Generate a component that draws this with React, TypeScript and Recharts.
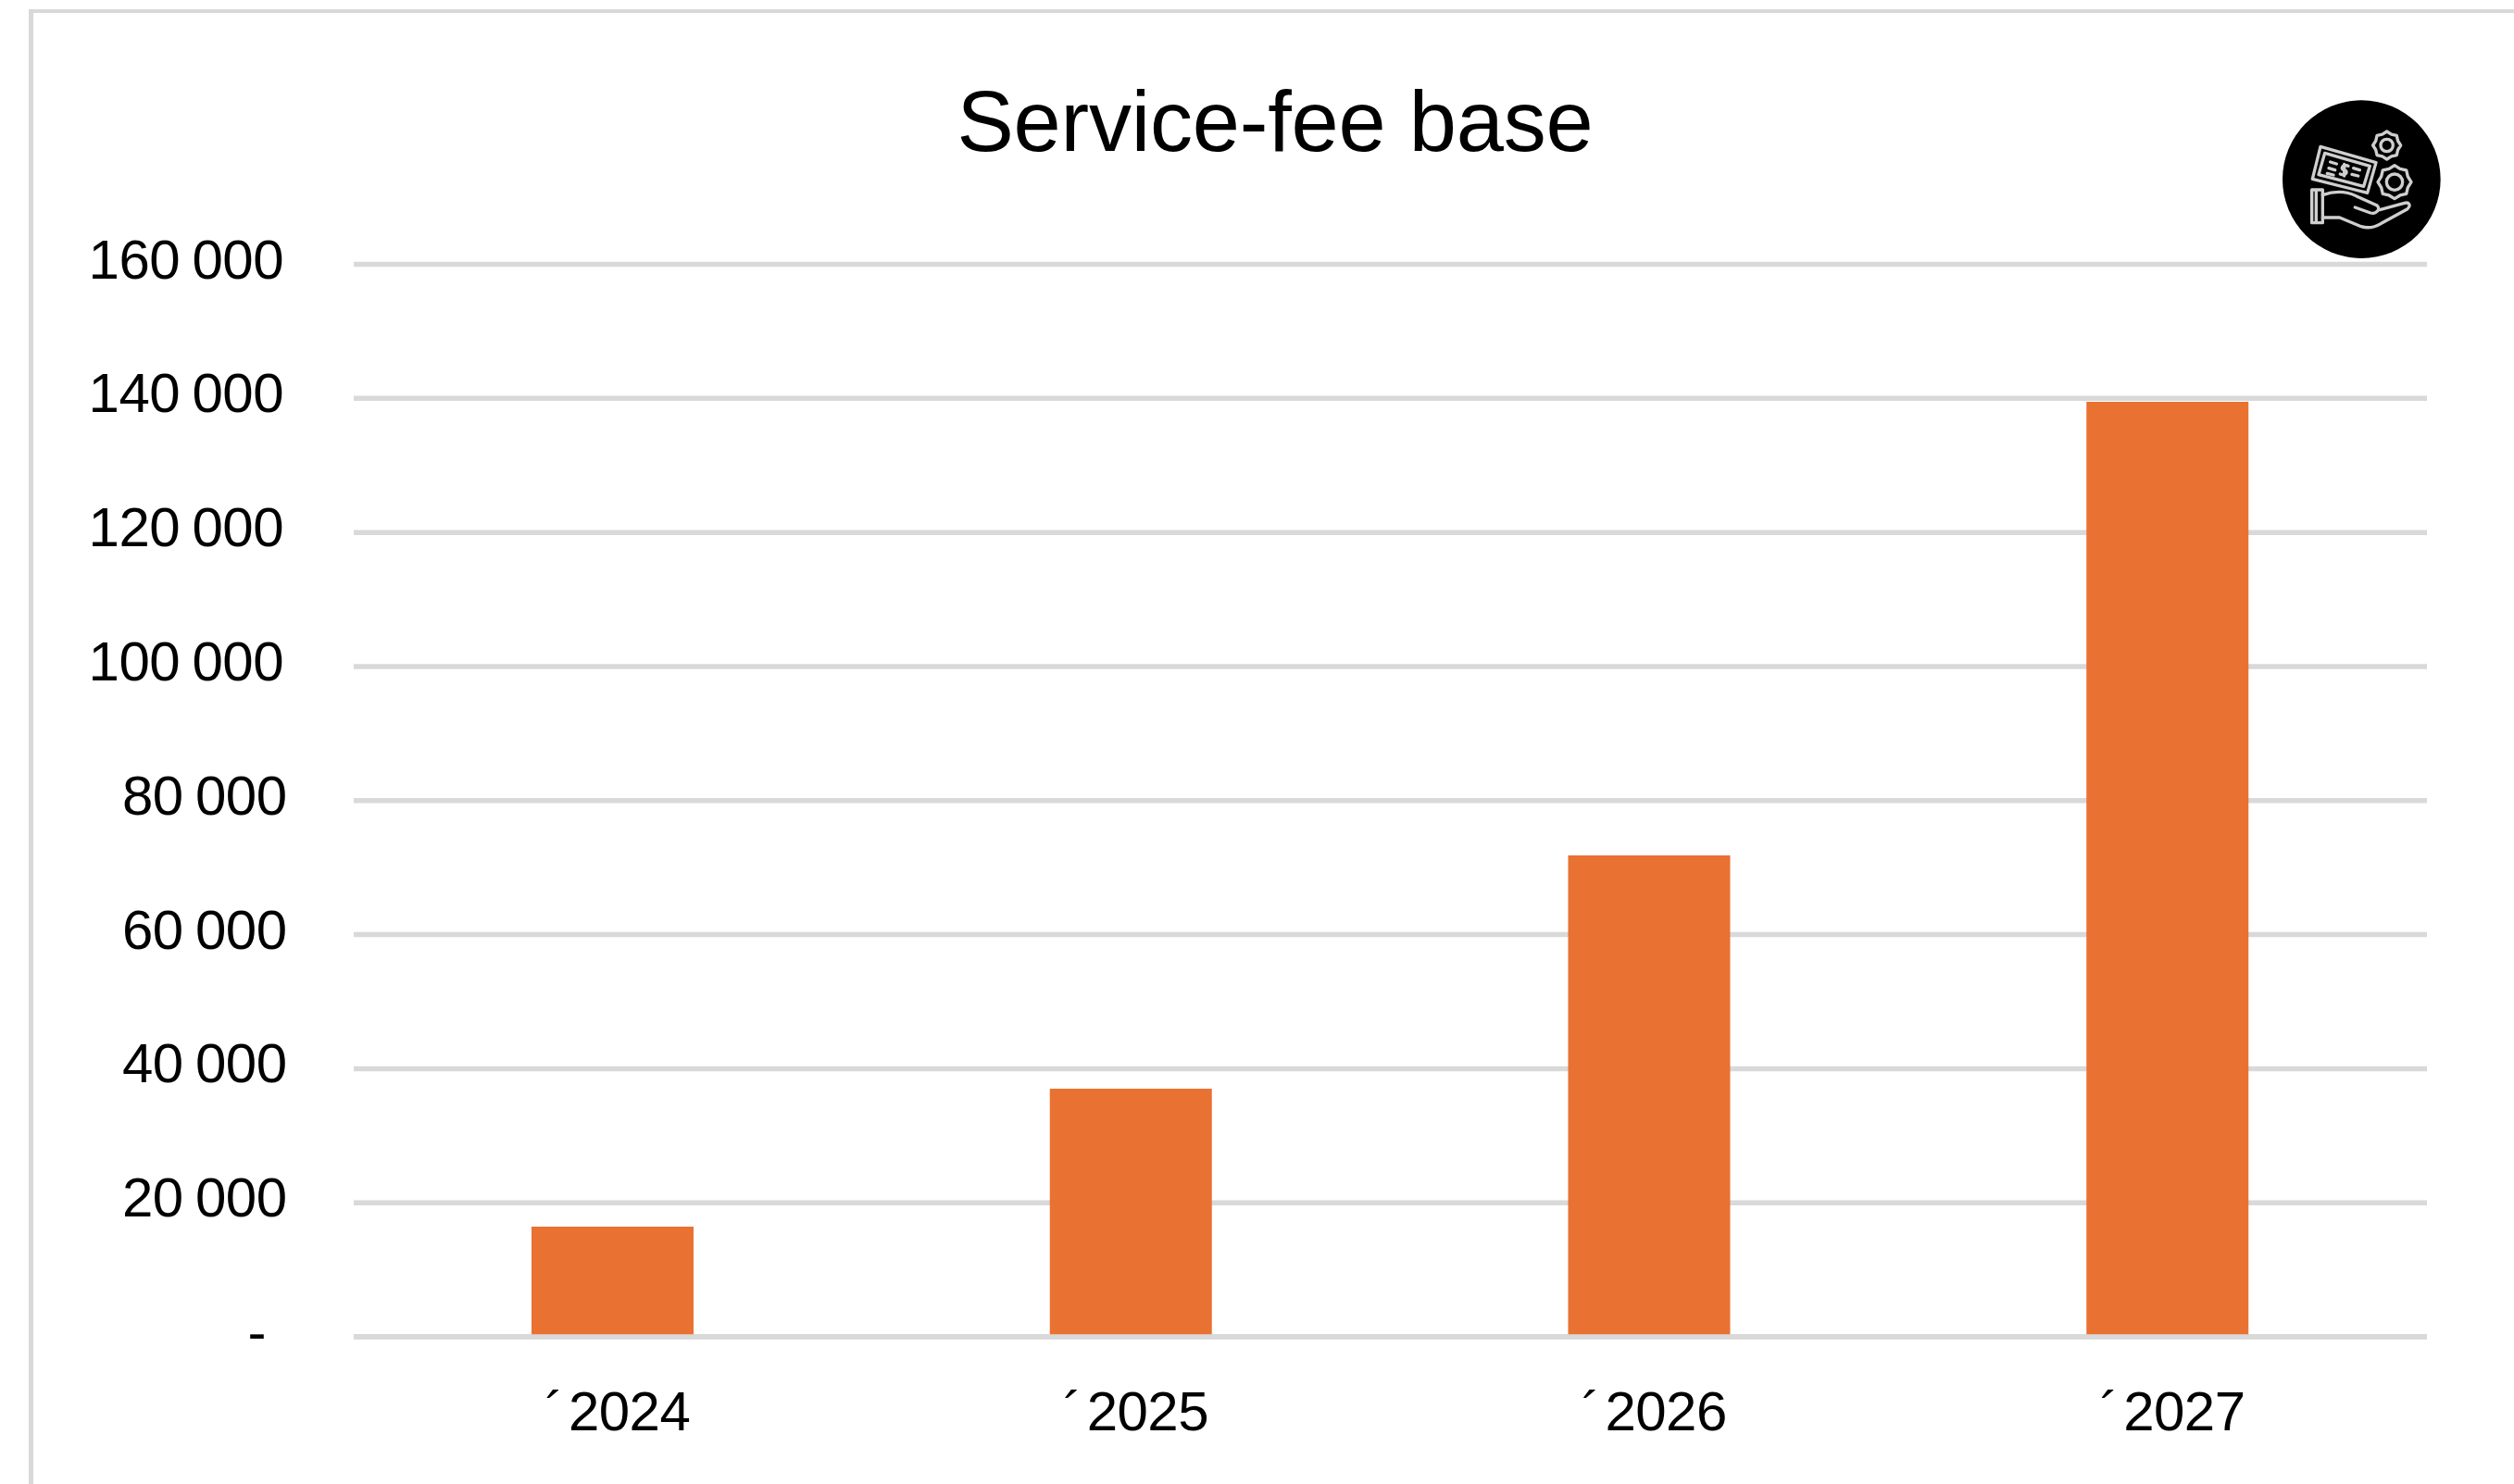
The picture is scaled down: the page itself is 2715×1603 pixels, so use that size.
import React from "react";
import {
  Bar,
  BarChart,
  CartesianGrid,
  ReferenceLine,
  XAxis,
  YAxis,
} from "recharts";

const years = ["´2024", "´2025", "´2026", "´2027"];
const serviceFeeBase = [16430, 37000, 71820, 139500];
const valueTicks = [0, 20000, 40000, 60000, 80000, 100000, 120000, 140000, 160000];

const data = years.map((year, i) => ({ year, fee: serviceFeeBase[i] }));

const FONT = '"Liberation Sans", Arial, sans-serif';
const GRID = "#D9D9D9";

// Space-separated thousands, accounting style dash for zero
const formatValue = (v: number) =>
  v === 0 ? "-" : String(v).replace(/\B(?=(\d{3})+$)/g, " ");

const ValueTick = (props: any) => {
  const { x, y, payload } = props;
  const v = payload.value;
  const right = v === 0 ? 287 : v >= 100000 ? x - 5 : x - 1.5;
  return (
    <text
      x={right}
      y={y + 15}
      textAnchor="end"
      fontFamily={FONT}
      fontSize={60}
      letterSpacing={-0.5}
      wordSpacing={-3}
      fill="#000"
    >
      {formatValue(v)}
    </text>
  );
};

// The leading accent sits a little apart from the digits
const YearTick = (props: any) => {
  const { x, payload } = props;
  const label = String(payload.value);
  return (
    <text
      x={x + 5}
      y={1545}
      textAnchor="middle"
      fontFamily={FONT}
      fontSize={60}
      letterSpacing={-0.5}
      fill="#000"
    >
      <tspan>{label.slice(0, 1)}</tspan>
      <tspan dx={6}>{label.slice(1)}</tspan>
    </text>
  );
};

// Round badge: banknote and two gears above an open hand
const gearPath = (cx: number, cy: number, r: number, teeth: number) => {
  let d = "";
  const n = teeth * 2;
  for (let i = 0; i < n; i++) {
    const a = (i / n) * Math.PI * 2;
    const rr = i % 2 === 0 ? r : r * 0.86;
    const px = cx + rr * Math.cos(a);
    const py = cy + rr * Math.sin(a);
    d += `${i === 0 ? "M" : "L"}${px.toFixed(1)} ${py.toFixed(1)} `;
  }
  return d + "Z";
};

const Badge = () => (
  <svg
    width={300}
    height={230}
    viewBox="0 0 900 690"
    style={{ position: "absolute", left: 2380, top: 80 }}
  >
    <circle cx={511} cy={341} r={256} fill="#000" />
    <g
      fill="none"
      stroke="#cfcfcf"
      strokeWidth={10}
      strokeLinejoin="round"
      strokeLinecap="round"
      style={{ filter: "blur(2px)" }}
    >
      <path d="M378 235 L558 287 L530 385 L352 340 Z" />
      <path d="M392 256 L538 298 L518 364 L372 326 Z" />
      <path d="M455 292 L455 330 M468 298 C450 290 440 308 455 311 C470 314 460 332 442 324" />
      <path d="M410 285 L430 291 M405 305 L425 311 M400 322 L420 327 M485 305 L505 311 M480 325 L500 330" />
      <path d={gearPath(593, 231, 45, 8)} />
      <circle cx={593} cy={231} r={20} />
      <path d={gearPath(618, 350, 54, 8)} />
      <circle cx={618} cy={350} r={26} />
      <path d="M350 375 L385 375 L385 482 L350 482 Z" />
      <path d="M364 378 L364 480" />
      <path d="M385 392 C430 376 470 382 500 398 L560 425 C575 436 560 455 540 450 L490 432" />
      <path d="M385 465 L440 465 L510 494 C535 502 555 496 575 484 L660 437 C672 425 665 414 650 418 L570 440" />
    </g>
  </svg>
);

export default function App() {
  return (
    <div
      style={{
        position: "absolute",
        left: 0,
        top: 0,
        width: 2715,
        height: 1603,
        overflow: "hidden",
        background: "#fff",
      }}
    >
      {/* Chart frame runs off the right and bottom edges */}
      <div
        style={{
          position: "absolute",
          left: 31,
          top: 10,
          width: 2800,
          height: 1700,
          borderLeft: `5px solid ${GRID}`,
          borderTop: `4px solid ${GRID}`,
        }}
      />
      <BarChart
        width={2715}
        height={1603}
        data={data}
        margin={{ top: 285.5, right: 94, bottom: 0, left: 0 }}
        style={{ position: "absolute", left: 0, top: 0 }}
      >
        <CartesianGrid vertical={false} stroke={GRID} strokeWidth={5.5} />
        <XAxis
          dataKey="year"
          height={159}
          axisLine={false}
          tickLine={false}
          interval={0}
          tick={<YearTick />}
        />
        <YAxis
          width={382}
          domain={[0, 160000]}
          ticks={valueTicks}
          interval={0}
          axisLine={false}
          tickLine={false}
          tickMargin={65}
          tick={<ValueTick />}
        />
        <Bar dataKey="fee" fill="#E97132" barSize={175} isAnimationActive={false} />
        <ReferenceLine y={0} stroke={GRID} strokeWidth={5.5} />
      </BarChart>
      <svg
        width={2715}
        height={200}
        style={{ position: "absolute", left: 0, top: 0 }}
      >
        <text
          x={1377}
          y={163}
          textAnchor="middle"
          fontFamily={FONT}
          fontSize={92}
          letterSpacing={-0.2}
          fill="#000"
        >
          Service-fee base
        </text>
      </svg>
      <Badge />
    </div>
  );
}
